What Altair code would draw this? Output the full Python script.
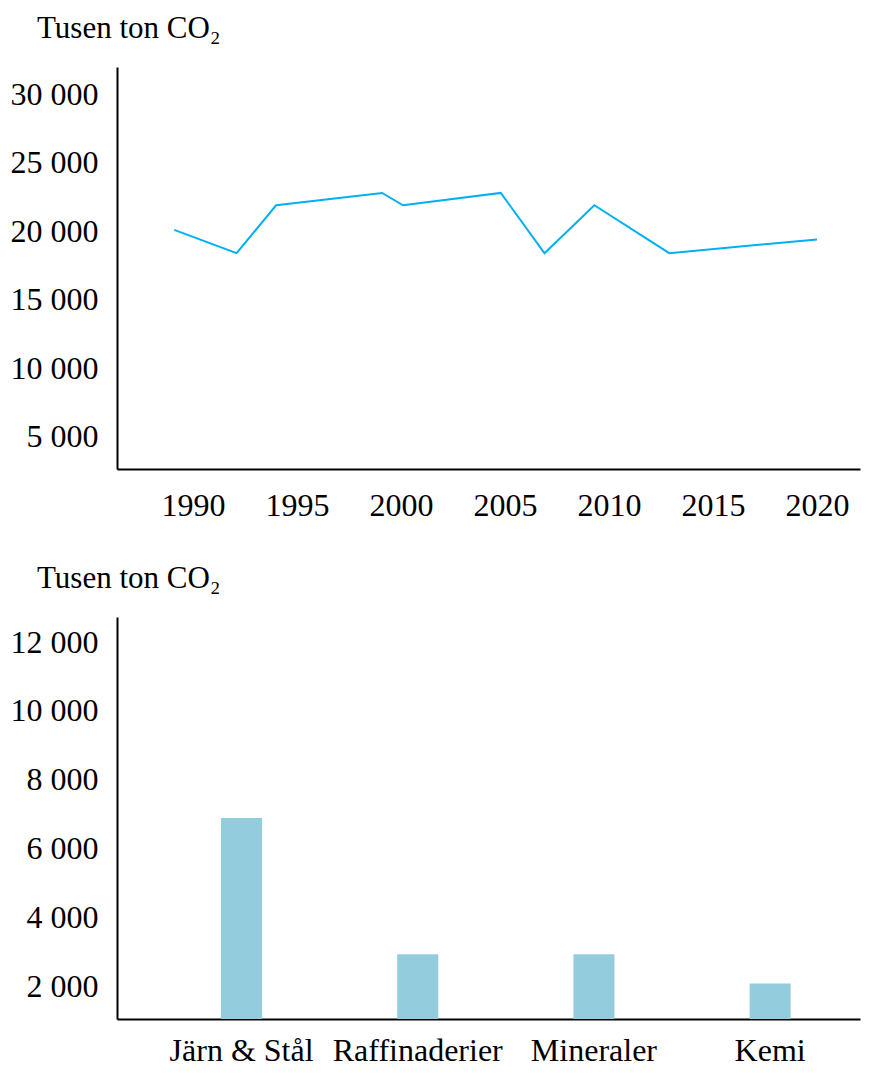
import altair as alt
import pandas as pd

# Total industrial emissions over time (thousand tonnes CO2)
years = [1989.1, 1992.1, 1994.0, 1999.1, 2000.1, 2004.8, 2006.9, 2009.3, 2012.9, 2020.0]
emissions = [20100, 18400, 21900, 22800, 21900, 22800, 18400, 21900, 18400, 19400]

# Emissions by sector
sectors = ["Järn & Stål", "Raffinaderier", "Mineraler", "Kemi"]
sector_emissions = [6900, 2950, 2950, 2100]

year_ticks = [1990, 1995, 2000, 2005, 2010, 2015, 2020]
line_y_ticks = [5000, 10000, 15000, 20000, 25000, 30000]
bar_y_ticks = [2000, 4000, 6000, 8000, 10000, 12000]

FONT = "Liberation Serif"
FS = 32
thousands = "replace(format(datum.value, ','), ',', ' ')"

line_df = pd.DataFrame({"year": years, "value": emissions})
bar_df = pd.DataFrame({"sector": sectors, "value": sector_emissions})


def unit_title():
    return alt.TitleParams(
        "Tusen ton CO₂", anchor="start", frame="group", dx=-80, offset=22,
        font=FONT, fontSize=FS - 1, fontWeight="normal", color="black",
    )


def y_axis(ticks):
    return alt.Axis(
        values=ticks, labelExpr=thousands, title=None, grid=False, ticks=False,
        labelPadding=19, labelFont=FONT, labelFontSize=FS, labelColor="black",
        domainColor="black", domainWidth=2, minExtent=117, maxExtent=117,
    )


def x_axis(**kw):
    return alt.Axis(
        title=None, grid=False, ticks=False, labelFont=FONT, labelFontSize=FS,
        labelColor="black", domainColor="black", domainWidth=2, labelFlush=False,
        labelOverlap=False, minExtent=60, maxExtent=60, **kw,
    )


line = alt.Chart(line_df, title=unit_title()).mark_line(
    color="#00B0F0", strokeWidth=2
).encode(
    x=alt.X("year:Q", scale=alt.Scale(domain=[1986.35, 2022.07], nice=False, zero=False),
            axis=x_axis(values=year_ticks, format="d", labelPadding=21)),
    y=alt.Y("value:Q", scale=alt.Scale(domain=[2630, 32000], nice=False, zero=False),
            axis=y_axis(line_y_ticks)),
).properties(width=743, height=402)

bars = alt.Chart(bar_df, title=unit_title()).mark_bar(
    color="#93CDDD", clip=True
).encode(
    x=alt.X("sector:N", sort=sectors,
            scale=alt.Scale(paddingInner=0.767, paddingOuter=0.492, align=0.6),
            axis=x_axis(labelAngle=0, labelPadding=16)),
    y=alt.Y("value:Q", scale=alt.Scale(domain=[1070, 12725], nice=False, zero=False),
            axis=y_axis(bar_y_ticks)),
).properties(width=743, height=402)

chart = alt.vconcat(line, bars, spacing=34).properties(
    padding={"left": 0, "top": 13, "right": 13, "bottom": 0}
).configure_view(stroke=None)

chart.save("out.html", embed_options={"renderer": "svg", "actions": False})
